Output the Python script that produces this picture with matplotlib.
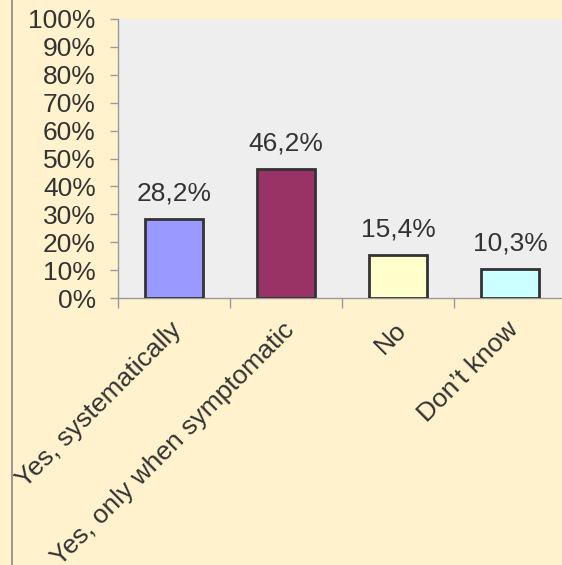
import matplotlib
matplotlib.use("Agg")
import matplotlib.pyplot as plt
import matplotlib.transforms as mtransforms
from matplotlib.lines import Line2D
import numpy as np

categories = ["Yes, systematically", "Yes, only when symptomatic", "No", "Don\u2019t know"]
values = [28.2, 46.2, 15.4, 10.3]
value_labels = ["28,2%", "46,2%", "15,4%", "10,3%"]
y_ticks = [0, 10, 20, 30, 40, 50, 60, 70, 80, 90, 100]
bar_colors = ["#9999FF", "#993366", "#FFFFCC", "#CCFFFF"]

plt.rcParams["font.family"] = ["Liberation Sans", "DejaVu Sans"]
txt = "#333333"
axis_gray = "#999999"
fs = 19

fig = plt.figure(figsize=(5.62, 5.65), dpi=100, facecolor="#FFF2CC")
ax = fig.add_axes([118 / 562, 267 / 565, 448 / 562, 279 / 565])
ax.set_facecolor("#EEEEEE")

x = np.arange(len(categories))
ax.bar(x, values, width=0.51, color=bar_colors, edgecolor="#333333", linewidth=2, zorder=3)
for xi, v, lab in zip(x, values, value_labels):
    ax.annotate(lab, (xi, v), xytext=(0, 10), textcoords="offset points",
                ha="center", va="bottom", fontsize=fs, color=txt)

ax.set_xlim(-0.5, len(categories) - 0.5)
ax.set_ylim(0, 100)
ax.set_yticks(y_ticks)
ax.set_yticklabels([f"{t}%" for t in y_ticks], fontsize=fs, color=txt)
ax.tick_params(axis="y", length=6, color=axis_gray, width=1, pad=10)

# category ticks sit on the boundaries, labels hang off the centres
ax.set_xticks([])
ax.set_xticks(np.arange(len(categories)) - 0.5, minor=True)
ax.tick_params(axis="x", which="minor", length=7, color=axis_gray, width=1)
trans = mtransforms.blended_transform_factory(ax.transData, ax.transAxes)
off = mtransforms.ScaledTranslation(-3 / 72, -14 / 72, fig.dpi_scale_trans)
for xi, cat in zip(x, categories):
    ax.text(xi, 0, cat, transform=trans + off, fontsize=fs, color=txt,
            rotation=45, ha="right", va="top", rotation_mode="anchor", clip_on=False)

for s in ["top", "right"]:
    ax.spines[s].set_visible(False)
for s in ["left", "bottom"]:
    ax.spines[s].set_color(axis_gray)
    ax.spines[s].set_linewidth(1)

# outer chart border on the left
fig.add_artist(Line2D([12 / 562, 12 / 562], [0, 1], transform=fig.transFigure,
                      color="#888888", linewidth=1.2))

fig.savefig("out.png", dpi=100, facecolor=fig.get_facecolor())
